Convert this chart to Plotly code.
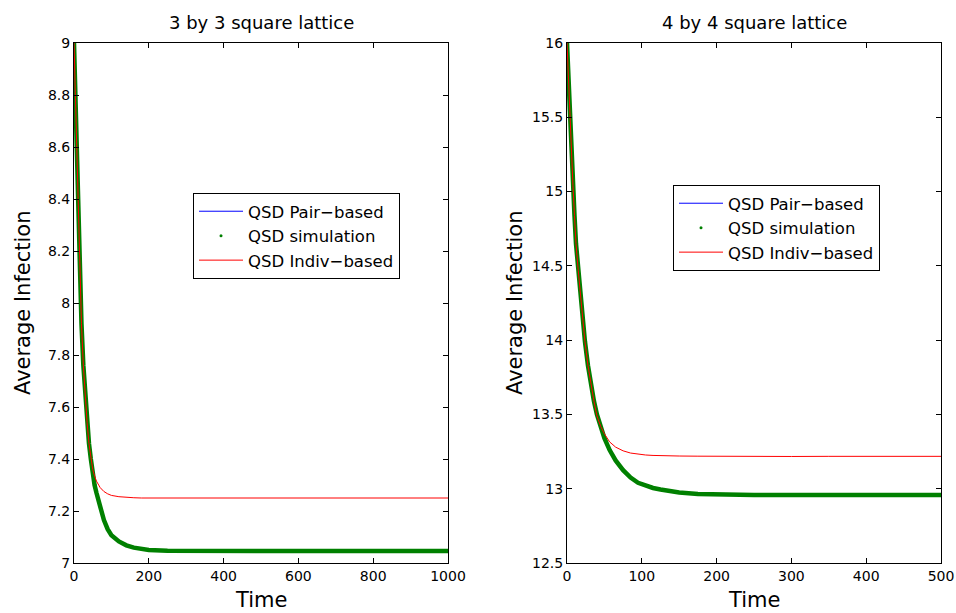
import plotly.graph_objects as go
from plotly.subplots import make_subplots

# ---- 3 by 3 lattice ----
time_3x3 = [0, 2, 4, 6, 8, 10, 13, 16, 20, 25, 30, 35, 40, 45, 50, 55, 60, 70, 80, 90, 100,
            120, 140, 160, 180, 200, 250, 300, 400, 500, 600, 700, 800, 900, 1000]
sim_3x3 = [9.0, 8.88, 8.77, 8.65, 8.55, 8.45, 8.28, 8.10, 7.92, 7.76, 7.64, 7.54, 7.46, 7.40,
           7.34, 7.30, 7.27, 7.215, 7.165, 7.13, 7.107, 7.083, 7.068, 7.059, 7.053, 7.050,
           7.047, 7.046, 7.046, 7.046, 7.046, 7.046, 7.046, 7.046, 7.046]
pair_3x3 = list(sim_3x3)
indiv_3x3 = [9.0, 8.88, 8.77, 8.65, 8.55, 8.45, 8.28, 8.10, 7.92, 7.76, 7.64, 7.54, 7.46, 7.40,
             7.36, 7.335, 7.315, 7.29, 7.275, 7.266, 7.26, 7.255, 7.252, 7.251, 7.25, 7.25,
             7.25, 7.25, 7.249, 7.25, 7.25, 7.251, 7.25, 7.25, 7.25]

# ---- 4 by 4 lattice ----
time_4x4 = [0, 2, 4, 6, 8, 10, 12, 15, 18, 21, 24, 28, 32, 36, 40, 45, 50, 57, 65, 75, 85, 95,
            105, 115, 125, 150, 175, 200, 250, 300, 350, 400, 450, 500]
sim_4x4 = [16.0, 15.74, 15.49, 15.26, 15.04, 14.84, 14.65, 14.47, 14.31, 14.14, 13.99, 13.83,
           13.70, 13.59, 13.50, 13.41, 13.34, 13.26, 13.19, 13.125, 13.075, 13.04, 13.02,
           13.005, 12.995, 12.975, 12.965, 12.961, 12.958, 12.958, 12.958, 12.958, 12.958, 12.958]
pair_4x4 = list(sim_4x4)
indiv_4x4 = [16.0, 15.74, 15.49, 15.26, 15.04, 14.84, 14.65, 14.47, 14.31, 14.14, 13.99, 13.83,
             13.70, 13.59, 13.49, 13.42, 13.37, 13.315, 13.28, 13.255, 13.24, 13.232, 13.227,
             13.224, 13.222, 13.22, 13.219, 13.218, 13.218, 13.217, 13.218, 13.218, 13.217, 13.218]

# ---- axis ticks ----
xticks_3x3 = [0, 200, 400, 600, 800, 1000]
yticks_3x3 = [7, 7.2, 7.4, 7.6, 7.8, 8, 8.2, 8.4, 8.6, 8.8, 9]
ylabels_3x3 = ["7", "7.2", "7.4", "7.6", "7.8", "8", "8.2", "8.4", "8.6", "8.8", "9"]
xticks_4x4 = [0, 100, 200, 300, 400, 500]
yticks_4x4 = [12.5, 13, 13.5, 14, 14.5, 15, 15.5, 16]
ylabels_4x4 = ["12.5", "13", "13.5", "14", "14.5", "15", "15.5", "16"]

titles = ["3 by 3 square lattice", "4 by 4 square lattice"]
names = ["QSD Pair\u2212based", "QSD simulation", "QSD Indiv\u2212based"]

BLUE = "#0000ff"
GREEN = "#008000"
RED = "#ff0000"
FONT = "DejaVu Sans"

W, H = 956, 613
fig = make_subplots(rows=1, cols=2)


def px_x(p):
    return p / W


def px_y(p):
    return 1 - p / H


panels = [
    (1, time_3x3, pair_3x3, sim_3x3, indiv_3x3, "legend"),
    (2, time_4x4, pair_4x4, sim_4x4, indiv_4x4, "legend2"),
]
for col, t, pair, sim, indiv, leg in panels:
    fig.add_trace(go.Scatter(x=t, y=pair, mode="lines", line=dict(color=BLUE, width=1),
                             name=names[0], legend=leg), row=1, col=col)
    fig.add_trace(go.Scatter(x=t, y=sim, mode="lines", line=dict(color=GREEN, width=4.5),
                             name=names[1], showlegend=False, legend=leg), row=1, col=col)
    # dot symbol shown in the legend for the simulation series
    fig.add_trace(go.Scatter(x=[None], y=[None], mode="markers",
                             marker=dict(color=GREEN, size=3), name=names[1], legend=leg),
                  row=1, col=col)
    fig.add_trace(go.Scatter(x=t, y=indiv, mode="lines", line=dict(color=RED, width=1),
                             name=names[2], legend=leg), row=1, col=col)

axis_common = dict(showline=True, linecolor="black", linewidth=1, mirror="ticks",
                   ticks="inside", ticklen=5, tickcolor="black", showgrid=False,
                   zeroline=False, automargin=False,
                   tickfont=dict(family=FONT, size=14, color="black"))

fig.update_xaxes(domain=[px_x(74), px_x(448)], range=[0, 1000], tickvals=xticks_3x3,
                 ticktext=[str(v) for v in xticks_3x3], row=1, col=1, **axis_common)
fig.update_yaxes(domain=[px_y(563), px_y(43)], range=[7, 9], tickvals=yticks_3x3,
                 ticktext=ylabels_3x3, row=1, col=1, **axis_common)
fig.update_xaxes(domain=[px_x(567), px_x(941)], range=[0, 500], tickvals=xticks_4x4,
                 ticktext=[str(v) for v in xticks_4x4], row=1, col=2, **axis_common)
fig.update_yaxes(domain=[px_y(563), px_y(43)], range=[12.5, 16], tickvals=yticks_4x4,
                 ticktext=ylabels_4x4, row=1, col=2, **axis_common)

legend_common = dict(bgcolor="white", bordercolor="black", borderwidth=1,
                     font=dict(family=FONT, size=16.5, color="black"),
                     xanchor="left", yanchor="top", tracegroupgap=0, itemwidth=44)

annotations = []
for cx, title in zip([261, 754], titles):
    annotations.append(dict(x=px_x(cx), y=px_y(23), xref="paper", yref="paper", text=title,
                            showarrow=False, xanchor="center", yanchor="middle",
                            font=dict(family=FONT, size=18, color="black")))
    annotations.append(dict(x=px_x(cx), y=px_y(600), xref="paper", yref="paper", text="Time",
                            showarrow=False, xanchor="center", yanchor="middle",
                            font=dict(family=FONT, size=21, color="black")))
for cx in [23, 515]:
    annotations.append(dict(x=px_x(cx), y=px_y(303), xref="paper", yref="paper",
                            text="Average Infection", textangle=-90, showarrow=False,
                            xanchor="center", yanchor="middle",
                            font=dict(family=FONT, size=21, color="black")))

fig.update_layout(
    width=W, height=H,
    margin=dict(l=0, r=0, t=0, b=0, autoexpand=False),
    paper_bgcolor="white", plot_bgcolor="white",
    font=dict(family=FONT, color="black"),
    legend=dict(x=px_x(193), y=px_y(193), **legend_common),
    legend2=dict(x=px_x(673), y=px_y(185), **legend_common),
    annotations=annotations,
)

fig.write_html("out.html")
